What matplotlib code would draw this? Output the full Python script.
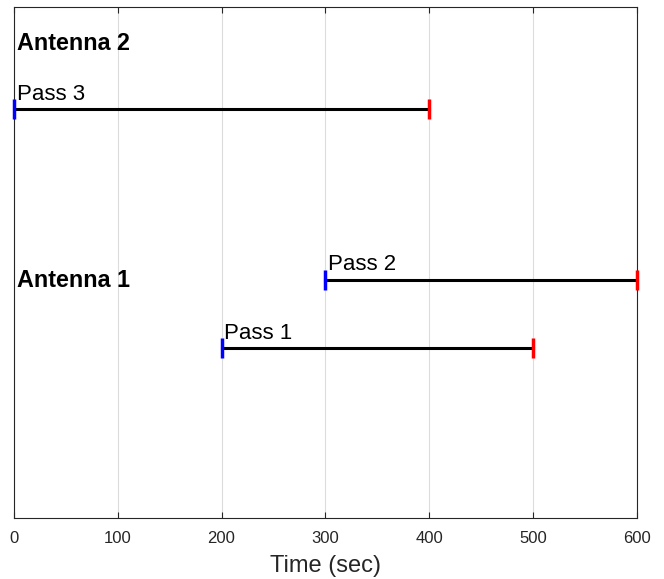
import matplotlib
matplotlib.use("Agg")
import matplotlib.pyplot as plt

plt.rcParams['font.family'] = ['Liberation Sans', 'DejaVu Sans']

pass_names = ["Pass 1", "Pass 2", "Pass 3"]
pass_start = [200, 300, 0]
pass_end = [500, 600, 400]
pass_y = [2.5, 3.5, 6.0]
antenna_names = ["Antenna 1", "Antenna 2"]
antenna_y = [3.48, 6.97]
xticks = [0, 100, 200, 300, 400, 500, 600]

fig = plt.figure(figsize=(6.64, 5.79), dpi=100)
ax = fig.add_axes([0.021, 0.105, 0.938, 0.883])

for name, s, e, y in zip(pass_names, pass_start, pass_end, pass_y):
    ax.plot([s, e], [y, y], color='black', lw=2.2, zorder=3)
    ax.plot(s, y, marker='|', color='blue', ms=14, mew=2.5, zorder=4, clip_on=False)
    ax.plot(e, y, marker='|', color='red', ms=14, mew=2.5, zorder=4, clip_on=False)
    ax.annotate(name, (s, y), xytext=(2, 3), textcoords='offset points',
                fontsize=16, ha='left', va='bottom')

for name, y in zip(antenna_names, antenna_y):
    ax.text(3, y, name, fontsize=16.8, fontweight='bold', ha='left', va='center')

ax.set_xlim(0, 600)
ax.set_ylim(0, 7.5)
ax.set_xticks(xticks)
ax.set_yticks([])
ax.grid(axis='x', color='#dcdcdc', lw=0.8)
ax.set_axisbelow(True)
ax.tick_params(axis='x', direction='in', top=True, length=4, width=0.8,
               colors='#262626', labelsize=12, pad=9)
for sp in ax.spines.values():
    sp.set_color('#262626')
    sp.set_linewidth(0.8)
ax.set_xlabel("Time (sec)", fontsize=17, color='#262626', labelpad=7)

fig.savefig("out.png", dpi=100)
